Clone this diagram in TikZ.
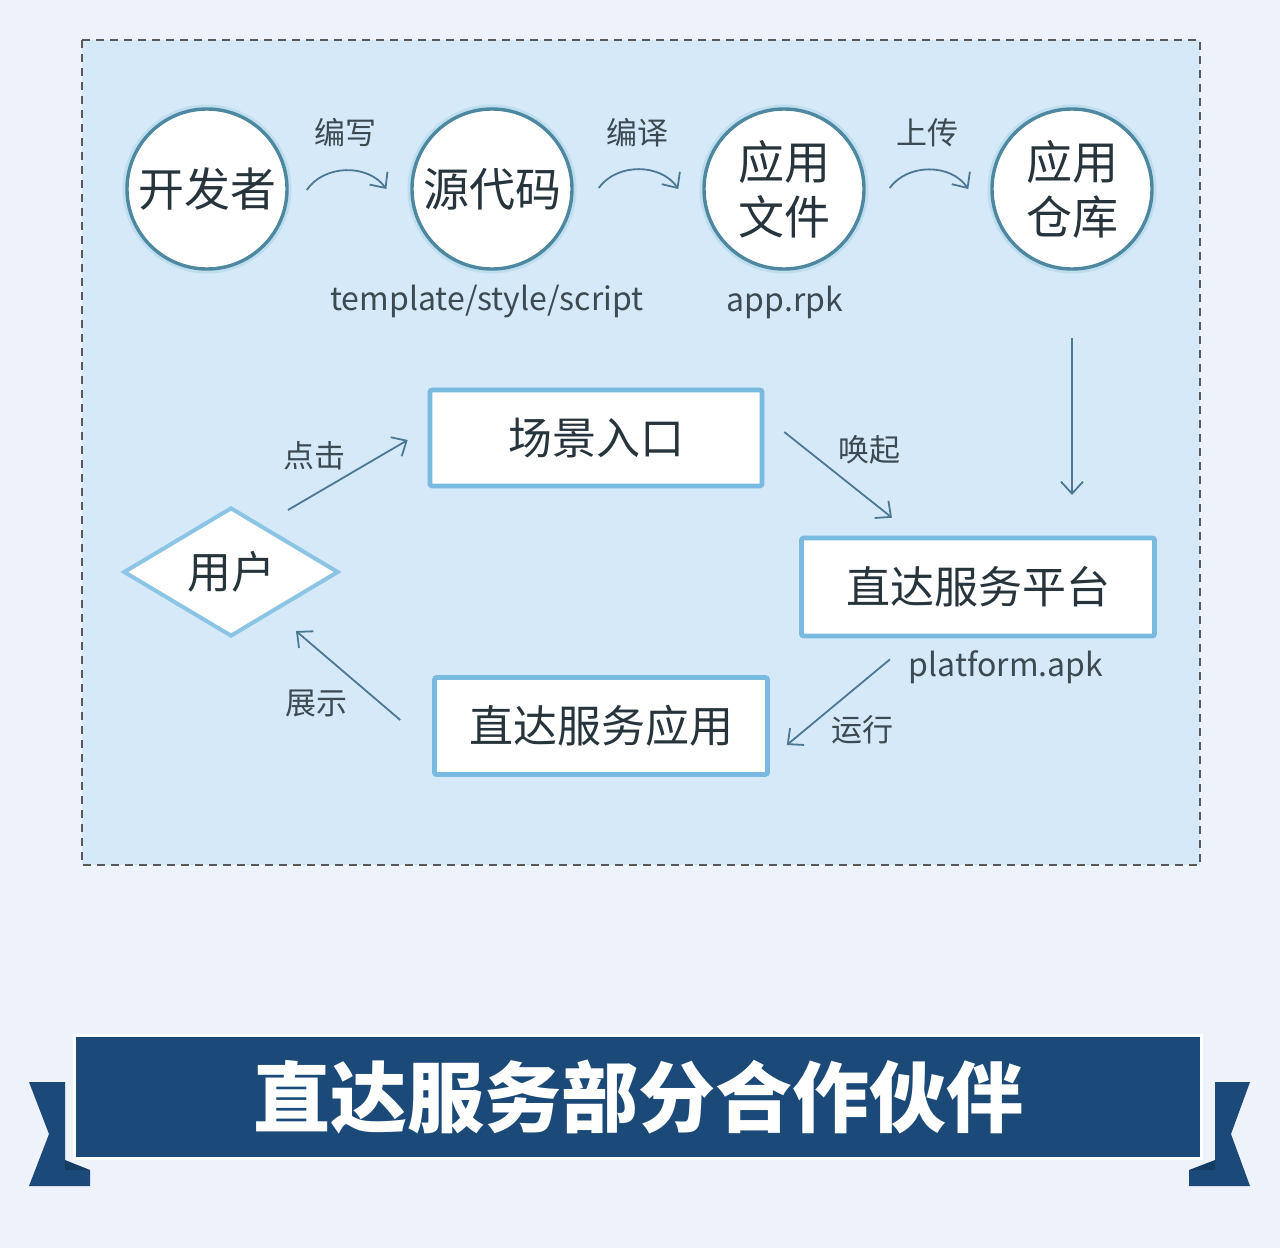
\documentclass[tikz,border=0pt]{standalone}
\usepackage{fontspec}
\setmainfont{Noto Sans CJK SC}
\usetikzlibrary{arrows.meta,shapes.geometric,calc}
\definecolor{pagebg}{RGB}{238,243,251}
\definecolor{panel}{RGB}{213,233,248}
\definecolor{ring}{RGB}{78,136,160}
\definecolor{ringglow}{RGB}{190,222,240}
\definecolor{boxline}{RGB}{120,186,224}
\definecolor{arrowc}{RGB}{76,120,148}
\definecolor{txt}{RGB}{40,52,60}
\definecolor{lbl}{RGB}{62,74,82}
\definecolor{navy}{RGB}{27,74,121}
\definecolor{navyd}{RGB}{20,60,100}
\tikzset{
  circnode/.style={circle, minimum size=160*0.5pt, inner sep=0pt, fill=white, draw=ring, line width=1.7pt,
    text=txt, font=\fontsize{23}{27.5}\selectfont, align=center},
  boxnode/.style={rectangle, rounded corners=1pt, fill=white, draw=boxline, line width=2.3pt,
    text=txt, font=\fontsize{22}{26}\selectfont, inner sep=0pt},
  arr/.style={draw=arrowc, line width=0.9pt, -{Straight Barb[length=6pt,width=11pt]}},
  elabel/.style={text=lbl, font=\fontsize{15.5}{18}\selectfont},
  sublabel/.style={text=lbl, font=\fontsize{16}{19}\selectfont},
}
\begin{document}
\begin{tikzpicture}[x=0.5pt,y=-0.5pt]
\useasboundingbox (0,0) rectangle (1280,1248);
\fill[pagebg] (0,0) rectangle (1280,1248);
% panel
\fill[panel] (82,40) rectangle (1200,865);
\draw[black!65, line width=1pt, dash pattern=on 4pt off 3pt] (82,40) rectangle (1200,865);

% circles
\foreach \p in {(207,189),(492,189),(784,189),(1072,189)}
  \draw[ringglow, line width=3pt] \p circle (81.5);
\node[circnode] (dev)  at (207,189) {开发者};
\node[circnode] (src)  at (492,189) {源代码};
\node[circnode] (file) at (784,189) {应用\\文件};
\node[circnode] (repo) at (1072,189) {应用\\仓库};

% curved arrows
\draw[arr] ($(dev.east)+(18,1)$) to[bend left=55] ($(src.west)+(-24,0)$);
\draw[arr] ($(src.east)+(25,-1)$) to[bend left=55] ($(file.west)+(-24,0)$);
\draw[arr] ($(file.east)+(24,-1)$) to[bend left=55] ($(repo.west)+(-22,0)$);
\node[elabel] (l1) at (345,133) {编写};
\node[elabel] (l2) at (637,133) {编译};
\node[elabel] (l3) at (927,133) {上传};
\node[sublabel] (s1) at (487,302) {template/style/script};
\node[sublabel] (s2) at (785,302) {app.rpk};

% boxes
\node[boxnode, minimum width=332*0.5pt, minimum height=96*0.5pt] (scene) at (596,438) {场景入口};
\node[boxnode, minimum width=353*0.5pt, minimum height=98*0.5pt] (plat) at (978,587) {直达服务平台};
\node[boxnode, minimum width=333*0.5pt, minimum height=97*0.5pt] (app) at (601,726) {直达服务应用};
\node[diamond, fill=white, draw=boxline!85!white, line width=2pt, minimum width=215*0.5pt, minimum height=102*0.5pt,
  inner sep=0pt, text=txt, font=\fontsize{22}{26}\selectfont] (user) at (231,572) {用户};
\node[sublabel] (s3) at (1006,667) {platform.apk};

% arrows
\draw[arr] (repo.south |- 0,338) -- (repo.south |- 0,495);
\draw[arr] ($(user.center)+(57,-62)$) -- ($(scene.west)+(-20,2)$);
\draw[arr] ($(scene.east)+(20,-6)$) -- ($(plat.north)+(-86,-18)$);
\draw[arr] ($(plat.south)+(-88,21)$) -- ($(app.east)+(17,19)$);
\draw[arr] ($(app.west)+(-32,-6)$) -- ($(user.center)+(65,59)$);
\node[elabel] (l4) at (314,456) {点击};
\node[elabel] (l5) at (869,450) {唤起};
\node[elabel] (l6) at (862,730) {运行};
\node[elabel] (l7) at (316,703) {展示};

% banner
\fill[navy] (29,1082) -- (65,1082) -- (65,1170) -- (90,1170) -- (90,1186) -- (29,1186) -- (49,1134) -- cycle;
\fill[navy] (1250,1082) -- (1215,1082) -- (1215,1170) -- (1189,1170) -- (1189,1186) -- (1250,1186) -- (1231,1134) -- cycle;
\fill[navyd] (65,1160) -- (90,1170) -- (65,1170) -- cycle;
\fill[navyd] (1215,1160) -- (1189,1170) -- (1215,1170) -- cycle;
\node[rectangle, fill=navy, draw=white!85!pagebg, line width=1.5pt, minimum width=1127*0.5pt, minimum height=123*0.5pt,
  inner sep=0pt, text=white, font=\bfseries\fontsize{38.5}{42}\selectfont] (title) at (638,1097) {直达服务部分合作伙伴};
\end{tikzpicture}
\end{document}
